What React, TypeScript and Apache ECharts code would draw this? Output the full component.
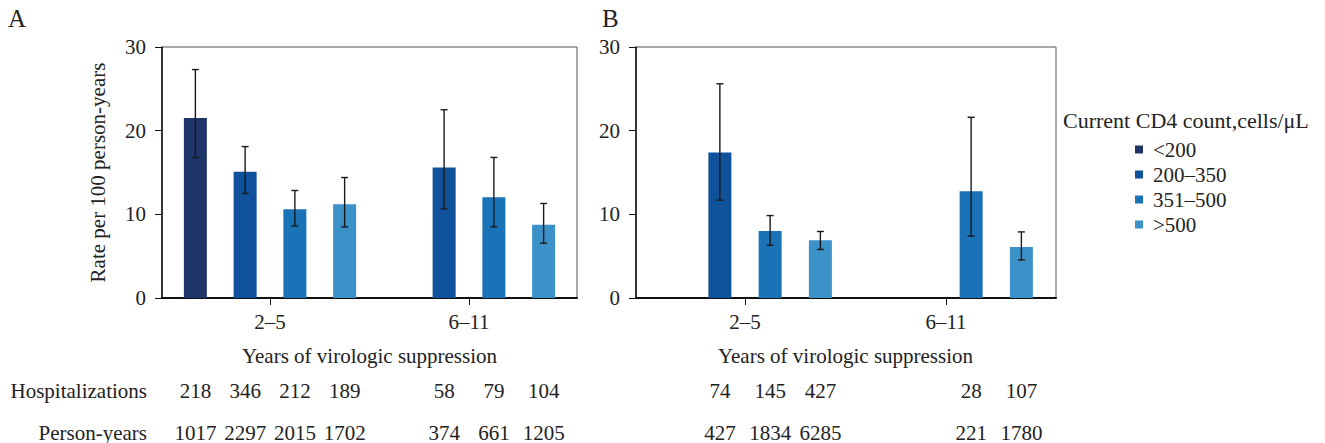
import React, { useEffect, useRef } from "react";
import * as echarts from "echarts";

const FONT = "'Liberation Serif', 'DejaVu Serif', serif";
const TXT = "#222";

const groups = ["2–5", "6–11"];
const cd4Levels = ["<200", "200–350", "351–500", ">500"];
const colors = ["#1F3468", "#0F519B", "#1A72B7", "#3B91C8"];

// Panel A: [cd4 level][group]
const rateA = [[21.5, null], [15.1, 15.6], [10.6, 12.05], [11.2, 8.75]];
const lowerA = [[16.8, null], [12.5, 10.65], [8.6, 8.5], [8.5, 6.55]];
const upperA = [[27.3, null], [18.1, 22.5], [12.85, 16.8], [14.4, 11.3]];
const hospA = [[218, null], [346, 58], [212, 79], [189, 104]];
const pyA = [[1017, null], [2297, 374], [2015, 661], [1702, 1205]];

// Panel B: [cd4 level][group]
const rateB = [[null, null], [17.4, null], [8.0, 12.75], [6.9, 6.1]];
const lowerB = [[null, null], [11.7, null], [6.3, 7.4], [5.8, 4.55]];
const upperB = [[null, null], [25.6, null], [9.85, 21.6], [7.95, 7.9]];
const hospB = [[null, null], [74, null], [145, 28], [427, 107]];
const pyB = [[null, null], [427, null], [1834, 221], [6285, 1780]];

const yTicks = { min: 0, max: 30, interval: 10 };

const slotNames: string[] = [];
groups.forEach((g) => cd4Levels.forEach((c) => slotNames.push(g + " " + c)));

const slotValue = (tbl: (number | null)[][], i: number) => {
  const g = Math.floor(i / cd4Levels.length);
  const c = i % cd4Levels.length;
  const v = tbl[c][g];
  return v == null ? "" : String(v);
};

const textStyle = { fontFamily: FONT, fontSize: 21, color: TXT };

function panel(
  p: number,
  frame: { left: number; width: number },
  data: { left: number; width: number },
  rate: (number | null)[][],
  lower: (number | null)[][],
  upper: (number | null)[][],
  hosp: (number | null)[][],
  py: (number | null)[][],
  withNames: boolean
) {
  const gFrame = p * 2;
  const gData = p * 2 + 1;
  const grids = [
    {
      left: frame.left,
      width: frame.width,
      top: 47,
      height: 251,
      show: true,
      borderColor: "#555",
      borderWidth: 1,
    },
    { left: data.left, width: data.width, top: 47, height: 251 },
  ];
  const xBase = p * 5;
  const xAxes: any[] = [
    {
      gridIndex: gFrame,
      type: "value",
      min: 0,
      max: 1,
      axisLine: { show: true, lineStyle: { color: "#111", width: 2 } },
      axisTick: { show: false },
      axisLabel: { show: false },
      splitLine: { show: false },
    },
    {
      gridIndex: gData,
      type: "category",
      data: groups,
      position: "bottom",
      axisLine: { show: false },
      axisTick: {
        show: true,
        alignWithLabel: true,
        length: 7,
        lineStyle: { color: "#111", width: 1 },
      },
      axisLabel: { ...textStyle, margin: 13 },
      name: "Years of virologic suppression",
      nameLocation: "middle",
      nameGap: 47,
      nameTextStyle: textStyle,
    },
    {
      gridIndex: gData,
      type: "category",
      data: slotNames,
      show: false,
    },
    {
      gridIndex: gData,
      type: "category",
      data: slotNames,
      position: "bottom",
      offset: 92.5,
      axisLine: { show: false },
      axisTick: { show: false },
      axisLabel: {
        ...textStyle,
        interval: 0,
        margin: 0,
        verticalAlign: "middle",
        formatter: (_v: string, i: number) => slotValue(hosp, i),
      },
      name: withNames ? "Hospitalizations" : "",
      nameLocation: "start",
      nameGap: data.left - 147,
      nameTextStyle: textStyle,
    },
    {
      gridIndex: gData,
      type: "category",
      data: slotNames,
      position: "bottom",
      offset: 134.5,
      axisLine: { show: false },
      axisTick: { show: false },
      axisLabel: {
        ...textStyle,
        interval: 0,
        margin: 0,
        verticalAlign: "middle",
        formatter: (_v: string, i: number) => slotValue(py, i),
      },
      name: withNames ? "Person-years" : "",
      nameLocation: "start",
      nameGap: data.left - 147,
      nameTextStyle: textStyle,
    },
  ];
  const yBase = p * 2;
  const yAxes: any[] = [
    {
      gridIndex: gFrame,
      type: "value",
      ...yTicks,
      axisLine: { show: true, lineStyle: { color: "#111", width: 1.5 } },
      axisTick: { show: true, length: 7, lineStyle: { color: "#111", width: 1 } },
      axisLabel: { ...textStyle, margin: 16 },
      splitLine: { show: false },
      name: withNames ? "Rate per 100 person-years" : "",
      nameLocation: "middle",
      nameGap: 54,
      nameTextStyle: textStyle,
    },
    { gridIndex: gData, type: "value", ...yTicks, show: false, splitLine: { show: false } },
  ];
  const series: any[] = cd4Levels.map((name, c) => ({
    name,
    type: "bar",
    xAxisIndex: xBase + 2,
    yAxisIndex: yBase + 1,
    barWidth: 23,
    barGap: "-100%",
    itemStyle: { color: colors[c] },
    data: groups
      .map((_g, gi) => [gi * cd4Levels.length + c, rate[c][gi]])
      .filter((d) => d[1] != null),
  }));
  const errData: number[][] = [];
  cd4Levels.forEach((_n, c) =>
    groups.forEach((_g, gi) => {
      if (lower[c][gi] != null && upper[c][gi] != null)
        errData.push([gi * cd4Levels.length + c, lower[c][gi] as number, upper[c][gi] as number]);
    })
  );
  series.push({
    type: "custom",
    xAxisIndex: xBase + 2,
    yAxisIndex: yBase + 1,
    z: 5,
    encode: { x: 0, y: [1, 2] },
    data: errData,
    renderItem: (_params: any, api: any) => {
      const x = api.value(0);
      const lo = api.coord([x, api.value(1)]);
      const hi = api.coord([x, api.value(2)]);
      const cap = 3.5;
      const style = { stroke: "#1a1a1a", lineWidth: 1.4 };
      return {
        type: "group",
        children: [
          { type: "line", shape: { x1: lo[0], y1: lo[1], x2: hi[0], y2: hi[1] }, style },
          { type: "line", shape: { x1: hi[0] - cap, y1: hi[1], x2: hi[0] + cap, y2: hi[1] }, style },
          { type: "line", shape: { x1: lo[0] - cap, y1: lo[1], x2: lo[0] + cap, y2: lo[1] }, style },
        ],
      };
    },
  });
  return { grids, xAxes, yAxes, series };
}

export default function App() {
  const ref = useRef<HTMLDivElement>(null);
  useEffect(() => {
    if (!ref.current) return;
    const chart = echarts.init(ref.current, undefined, { renderer: "svg" });
    const a = panel(0, { left: 162, width: 415 }, { left: 170.5, width: 398 }, rateA, lowerA, upperA, hospA, pyA, true);
    const b = panel(1, { left: 636, width: 420 }, { left: 644.5, width: 402 }, rateB, lowerB, upperB, hospB, pyB, false);
    chart.setOption({
      animation: false,
      backgroundColor: "#fff",
      title: [
        { text: "A", left: 8, top: 6, padding: 0, textStyle: { ...textStyle, fontSize: 25, fontWeight: "normal" } },
        { text: "B", left: 602, top: 6, padding: 0, textStyle: { ...textStyle, fontSize: 25, fontWeight: "normal" } },
        {
          text: "Current CD4 count,cells/μL",
          left: 1063,
          top: 109,
          padding: 0,
          textStyle: { ...textStyle, fontSize: 22, fontWeight: "normal" },
        },
      ],
      legend: {
        data: cd4Levels,
        orient: "vertical",
        left: 1135,
        top: 139,
        padding: 0,
        icon: "rect",
        itemWidth: 8,
        itemHeight: 8,
        itemGap: 4,
        selectedMode: false,
        textStyle: { ...textStyle, lineHeight: 20, padding: [0, 0, 0, 5] },
      },
      grid: [...a.grids, ...b.grids],
      xAxis: [...a.xAxes, ...b.xAxes],
      yAxis: [...a.yAxes, ...b.yAxes],
      series: [...a.series, ...b.series],
    });
    return () => chart.dispose();
  }, []);
  return (
    <div
      ref={ref}
      style={{ position: "absolute", left: 0, top: 0, width: 1325, height: 443 }}
    />
  );
}
